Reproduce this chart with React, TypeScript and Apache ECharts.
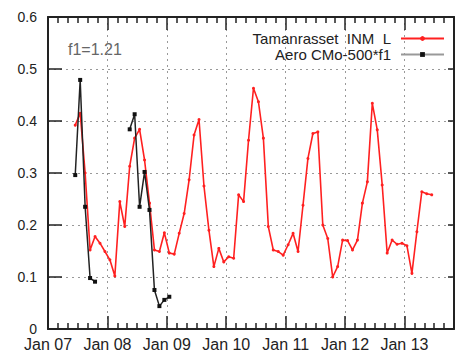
import React, { useEffect, useRef } from "react";
import * as echarts from "echarts";

// ---- data (monthly values, Jan..Dec, null = no data) ----
const TAM_NAME = "Tamanrasset  INM  L";
const AERO_NAME = "Aero CMo-500*f1";

const tam2007 = [null, null, null, null, null, 0.392, 0.415, 0.3, 0.152, 0.178, 0.165, 0.149];
const tam2008 = [0.133, 0.102, 0.245, 0.197, 0.313, 0.367, 0.384, 0.325, 0.242, 0.152, 0.149, 0.185];
const tam2009 = [0.146, 0.144, 0.184, 0.222, 0.287, 0.373, 0.403, 0.275, 0.19, 0.12, 0.155, 0.129];
const tam2010 = [0.139, 0.136, 0.258, 0.245, 0.363, 0.463, 0.437, 0.367, 0.197, 0.152, 0.149, 0.142];
const tam2011 = [0.162, 0.184, 0.149, 0.238, 0.328, 0.376, 0.379, 0.2, 0.174, 0.1, 0.12, 0.171];
const tam2012 = [0.17, 0.152, 0.171, 0.242, 0.283, 0.434, 0.383, 0.277, 0.146, 0.171, 0.163, 0.165];
const tam2013 = [0.16, 0.107, 0.187, 0.264, 0.26, 0.258];

const aero2007 = [null, null, null, null, null, 0.296, 0.479, 0.235, 0.098, 0.091, null, null];
const aero2008 = [null, null, null, null, 0.384, 0.413, 0.235, 0.302, 0.229, 0.075, 0.044, 0.056];
const aero2009 = [0.062];

const xYears = [2007, 2008, 2009, 2010, 2011, 2012, 2013];
const xMin = 2007;
const xMax = 2013 + 10 / 12;
const yTicks = [0, 0.1, 0.2, 0.3, 0.4, 0.5, 0.6];
const annotation = "f1=1.21";

type V = number | null;
function toPoints(year: number, arr: V[]): [number, V][] {
  return arr.map((v, i) => [year + (i + 0.5) / 12, v]);
}
function trim(pts: [number, V][]) {
  let s = 0;
  let e = pts.length - 1;
  while (s <= e && pts[s][1] == null) s++;
  while (e >= s && pts[e][1] == null) e--;
  return pts.slice(s, e + 1);
}

const tamData = trim([
  ...toPoints(2007, tam2007),
  ...toPoints(2008, tam2008),
  ...toPoints(2009, tam2009),
  ...toPoints(2010, tam2010),
  ...toPoints(2011, tam2011),
  ...toPoints(2012, tam2012),
  ...toPoints(2013, tam2013),
]);
const aeroData = trim([
  ...toPoints(2007, aero2007),
  ...toPoints(2008, aero2008),
  ...toPoints(2009, aero2009),
]);

const FONT = "Liberation Sans, Arial, sans-serif";
const AX = "#222";

export default function App() {
  const ref = useRef<HTMLDivElement>(null);
  useEffect(() => {
    if (!ref.current) return;
    const chart = echarts.init(ref.current, undefined, { renderer: "svg" });
    const xCommon = {
      type: "value" as const,
      min: xMin,
      max: xMax,
      interval: 1,
      axisLine: { show: true, onZero: false, lineStyle: { color: AX, width: 2 } },
      axisTick: { show: true, inside: true, length: 13, lineStyle: { color: AX, width: 1.5 } },
      minorTick: { show: true, splitNumber: 6, length: 6, lineStyle: { color: AX, width: 1.5 } },
    };
    const yCommon = {
      type: "value" as const,
      min: yTicks[0],
      max: yTicks[yTicks.length - 1],
      interval: 0.1,
      axisLine: { show: true, onZero: false, lineStyle: { color: AX, width: 2 } },
    };
    const legendCommon = {
      orient: "vertical" as const,
      align: "right" as const,
      right: 12,
      itemWidth: 43,
      itemHeight: 6,
      padding: 0,
      selectedMode: false,
      textStyle: { fontSize: 15, lineHeight: 13, color: AX, fontFamily: FONT, padding: [0, 5, 0, 0] },
    };
    chart.setOption({
      animation: false,
      textStyle: { fontFamily: FONT },
      grid: { left: 48, top: 17, width: 410, height: 312, containLabel: false },
      xAxis: [
        {
          ...xCommon,
          position: "bottom",
          axisLabel: {
            fontSize: 16,
            lineHeight: 13,
            color: AX,
            margin: 9,
            fontFamily: FONT,
            formatter: (v: number) =>
              xYears.includes(Math.round(v)) && Math.abs(v - Math.round(v)) < 1e-6
                ? "Jan " + String(Math.round(v) % 100).padStart(2, "0")
                : "",
          },
          splitLine: { show: true, lineStyle: { color: "#999", width: 1, type: [2, 4] } },
        },
        {
          ...xCommon,
          position: "top",
          axisLabel: { show: false },
          splitLine: { show: false },
        },
      ],
      yAxis: [
        {
          ...yCommon,
          position: "left",
          axisTick: { show: true, inside: true, length: 14, lineStyle: { color: AX, width: 1.5 } },
          axisLabel: {
            fontSize: 14,
            lineHeight: 12,
            color: AX,
            margin: 11,
            fontFamily: FONT,
            formatter: (v: number) => (Math.abs(v) < 1e-9 ? "0" : v.toFixed(1)),
          },
          splitLine: { show: true, lineStyle: { color: "#999", width: 1, type: [2, 4] } },
        },
        {
          ...yCommon,
          position: "right",
          axisTick: { show: true, inside: true, length: 6, lineStyle: { color: AX, width: 1.5 } },
          axisLabel: { show: false },
          splitLine: { show: false },
        },
      ],
      legend: [
        { ...legendCommon, top: 31, data: [{ name: TAM_NAME }] },
        { ...legendCommon, top: 47, data: [{ name: AERO_NAME, lineStyle: { color: "#999" } }] },
      ],
      graphic: [
        {
          type: "text",
          left: 68,
          top: 41,
          style: { text: annotation, fontSize: 16, fill: "#666", fontFamily: FONT },
        },
      ],
      series: [
        {
          name: TAM_NAME,
          type: "line",
          data: tamData,
          xAxisIndex: 0,
          yAxisIndex: 0,
          symbol: "circle",
          symbolSize: 3,
          showAllSymbol: true,
          connectNulls: false,
          lineStyle: { color: "#ff2020", width: 1.6 },
          itemStyle: { color: "#ff2020" },
          z: 3,
        },
        {
          name: AERO_NAME,
          type: "line",
          data: aeroData,
          xAxisIndex: 0,
          yAxisIndex: 0,
          symbol: "rect",
          symbolSize: 4,
          showAllSymbol: true,
          connectNulls: false,
          lineStyle: { color: "#222", width: 1.5 },
          itemStyle: { color: "#111" },
          z: 4,
        },
      ],
    });
    return () => chart.dispose();
  }, []);
  return <div ref={ref} style={{ width: 457, height: 356, position: "absolute", left: 0, top: 0 }} />;
}
